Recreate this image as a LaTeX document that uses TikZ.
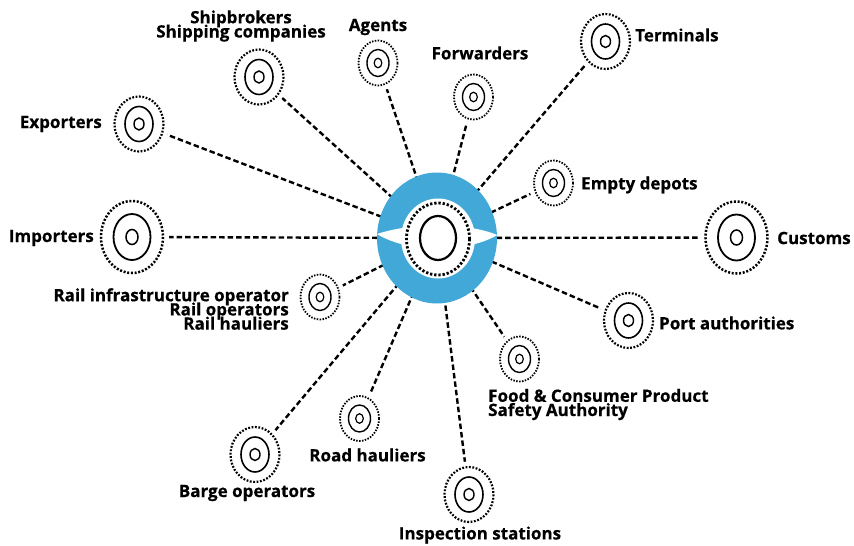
\documentclass[tikz,border=0pt]{standalone}
\usepackage{fontspec}
\setmainfont{Open Sans}[BoldFeatures={FakeBold=0.5}]
\definecolor{hubblue}{RGB}{66,168,216}
\newcommand\lblfont{\fontsize{17}{14.2}\selectfont\bfseries\lineskiplimit=-50pt\relax}
\tikzset{
  conn/.style={line width=2.4pt, dash pattern=on 5.5pt off 3pt},
  lbl/.style={inner sep=0pt, font=\lblfont},
  pics/satL/.style={code={
    \fill[white] (0,0) ellipse [x radius=37, y radius=42];
    \draw[line width=2.5pt, dash pattern=on 2pt off 1.7pt] (0,0) ellipse [x radius=31, y radius=36];
    \draw[line width=1.8pt] (0,0) ellipse [x radius=18.5, y radius=23];
    \draw[line width=1.5pt] (0,0) ellipse [x radius=6, y radius=7.5];
  }},
  pics/satM/.style={code={
    \fill[white] (0,0) ellipse [x radius=30, y radius=33];
    \draw[line width=2.2pt, dash pattern=on 1.8pt off 1.6pt] (0,0) ellipse [x radius=24.5, y radius=27.5];
    \draw[line width=1.6pt] (0,0) ellipse [x radius=14, y radius=17.5];
    \draw[line width=1.4pt] (0,0) ellipse [x radius=5, y radius=6];
  }},
  pics/satS/.style={code={
    \fill[white] (0,0) ellipse [x radius=25, y radius=28];
    \draw[line width=1.8pt, dash pattern=on 1.5pt off 1.4pt] (0,0) ellipse [x radius=19.5, y radius=22.5];
    \draw[line width=1.4pt] (0,0) ellipse [x radius=11, y radius=13.5];
    \draw[line width=1.2pt] (0,0) ellipse [x radius=3.8, y radius=4.8];
  }},
}
\begin{document}
\begin{tikzpicture}[x=1pt,y=-1pt]
\useasboundingbox (0,0) rectangle (854,546);
% centres
\coordinate (hub) at (437,238);
\coordinate (exp) at (139,124);
\coordinate (imp) at (132,237);
\coordinate (shp) at (259,77);
\coordinate (agt) at (378,63);
\coordinate (fwd) at (473.5,97);
\coordinate (ter) at (605.5,41.5);
\coordinate (emp) at (553.5,183);
\coordinate (cus) at (736.5,237.5);
\coordinate (prt) at (628.5,320.5);
\coordinate (fod) at (519.5,359);
\coordinate (ins) at (469,494.5);
\coordinate (rod) at (359.5,418.5);
\coordinate (brg) at (255,454.5);
\coordinate (ral) at (320,297);
% connectors
\foreach \s in {exp,imp,shp,agt,fwd,ter,emp,cus,prt,fod,ins,rod,brg,ral}
  \draw[conn] (hub) -- (\s);
% hub
\fill[hubblue] (hub) ellipse [x radius=60, y radius=65.5];
\fill[white] (438,238.5) ellipse [x radius=37, y radius=40];
\fill[white] (377,234) .. controls (395,228) and (420,225) .. (438,225)
  .. controls (456,225) and (480,228) .. (497.5,235)
  .. controls (480,245) and (456,249) .. (438,249)
  .. controls (420,249) and (395,245) .. cycle;
\draw[line width=2.8pt, dash pattern=on 2.3pt off 1.9pt] (438,239) ellipse [x radius=31.5, y radius=36];
\draw[line width=2.2pt] (438,238) ellipse [x radius=18, y radius=22];
% satellites
\pic at (imp) {satL};
\pic at (cus) {satL};
\pic at (exp) {satM};
\pic at (shp) {satM};
\pic at (ter) {satM};
\pic at (prt) {satM};
\pic at (brg) {satM};
\pic at (ins) {satM};
\pic at (agt) {satS};
\pic at (fwd) {satS};
\pic at (emp) {satS};
\pic at (ral) {satS};
\pic at (rod) {satS};
\pic at (fod) {satS};
% labels
\node[lbl, align=center] (lshp) at (241,26) {Shipbrokers\\Shipping companies};
\node[lbl] (lagt) at (378,27) {Agents};
\node[lbl] (lfwd) at (480,53) {Forwarders};
\node[lbl, anchor=west] (lter) at (635,35) {Terminals};
\node[lbl, anchor=east] (lexp) at (102,124) {Exporters};
\node[lbl, anchor=west] (lemp) at (581,185) {Empty depots};
\node[lbl, anchor=east] (limp) at (94,238) {Importers};
\node[lbl, anchor=west] (lcus) at (777,238) {Customs};
\node[lbl, anchor=east, align=right] (lral) at (289,309) {Rail infrastructure operator\\Rail operators\\Rail hauliers};
\node[lbl, anchor=west, align=left] (lfod) at (488,404.5) {Food \& Consumer Product\\Safety Authority};
\node[lbl, anchor=west] (lprt) at (659,323) {Port authorities};
\node[lbl] (lrod) at (367.5,455) {Road hauliers};
\node[lbl] (lbrg) at (247,493) {Barge operators};
\node[lbl] (lins) at (480,535) {Inspection stations};
\end{tikzpicture}
\end{document}
